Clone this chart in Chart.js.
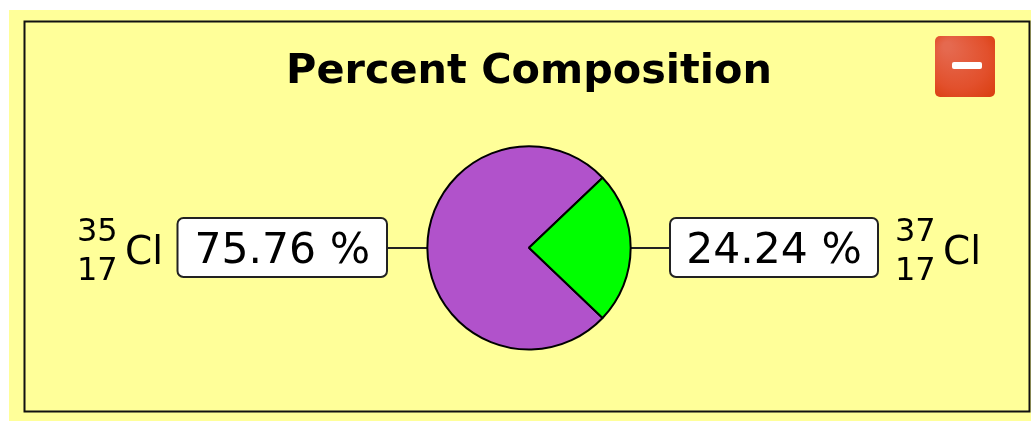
<!DOCTYPE html>
<html>
<head>
<meta charset="utf-8">
<title>Percent Composition</title>
<script src="https://cdn.jsdelivr.net/npm/chart.js@4/dist/chart.umd.min.js"></script>
<style>
  html, body { margin: 0; padding: 0; background: #fff; overflow: hidden; }
  canvas { display: block; }
</style>
</head>
<body>
<canvas id="chart" width="1031" height="421"></canvas>
<script>
const titleText = 'Percent Composition';
const elements = ['Cl', 'Cl'];
const massNumbers = ['35', '37'];
const atomicNumbers = ['17', '17'];
const percents = [75.76, 24.24];
const sliceColors = ['#b152cb', '#00ff00'];

const FONT = '"DejaVu Sans"';

// yellow panel, frame and the lines that join the boxes to the pie
const panelPlugin = {
  id: 'panel',
  beforeDraw(chart) {
    const c = chart.ctx;
    c.save();
    c.fillStyle = '#ffff99';
    c.fillRect(9, 10, 1022, 411);
    c.strokeStyle = '#111';
    c.lineWidth = 2;
    c.strokeRect(24.5, 21.5, 1005, 390);
    c.lineWidth = 2;
    c.strokeStyle = '#222';
    c.beginPath();
    c.moveTo(387, 248); c.lineTo(430, 248);
    c.moveTo(628, 248); c.lineTo(670, 248);
    c.stroke();
    c.restore();
  }
};

function drawBox(c, x, y, w, h, text) {
  c.beginPath();
  c.roundRect(x, y, w, h, 6);
  c.fillStyle = '#fff';
  c.fill();
  c.lineWidth = 2;
  c.strokeStyle = '#222';
  c.stroke();
  c.fillStyle = '#000';
  c.font = '42.5px ' + FONT;
  c.textAlign = 'center';
  c.textBaseline = 'alphabetic';
  c.fillText(text, x + w / 2, y + 45);
}

function drawIsotope(c, x, i) {
  c.fillStyle = '#000';
  c.font = '32px ' + FONT;
  c.textAlign = 'left';
  c.textBaseline = 'alphabetic';
  c.fillText(massNumbers[i], x, 241);
  c.fillText(atomicNumbers[i], x, 280);
  c.font = '39px ' + FONT;
  c.fillText(elements[i], x + 48, 264);
}

function drawMinusButton(c, x, y, s) {
  const g = c.createRadialGradient(x + 12, y + 10, 4, x + s / 2, y + s / 2, s * 0.8);
  g.addColorStop(0, '#e5694f');
  g.addColorStop(0.6, '#e2502c');
  g.addColorStop(1, '#d83a08');
  c.beginPath();
  c.roundRect(x, y, s, s + 1, 5);
  c.fillStyle = g;
  c.fill();
  c.fillStyle = '#fff';
  c.beginPath();
  c.roundRect(x + 17, y + 26, 30, 7, 2);
  c.fill();
}

const labelsPlugin = {
  id: 'isotopeLabels',
  afterDraw(chart) {
    const c = chart.ctx;
    c.save();
    drawBox(c, 177.5, 218, 209.5, 59, percents[0].toFixed(2) + ' %');
    drawBox(c, 670, 218, 208, 59, percents[1].toFixed(2) + ' %');
    drawIsotope(c, 77, 0);
    drawIsotope(c, 895, 1);
    drawMinusButton(c, 935, 36, 60);
    c.restore();
  }
};

new Chart(document.getElementById('chart'), {
  type: 'pie',
  data: {
    labels: massNumbers.map((m, i) => m + elements[i]),
    datasets: [{
      data: percents,
      backgroundColor: sliceColors,
      borderColor: '#000',
      borderWidth: 2,
      hoverOffset: 0
    }]
  },
  options: {
    responsive: false,
    animation: false,
    // start so the small slice ends up centred on the right hand side
    rotation: 90 + percents[1] * 1.8,
    layout: { padding: { left: 27, right: 0, top: 0, bottom: 70.5 } },
    plugins: {
      legend: { display: false },
      tooltip: { enabled: false },
      title: {
        display: true,
        text: titleText,
        color: '#000',
        font: { family: 'DejaVu Sans', size: 41.4, weight: 'bold' },
        padding: { top: 47.5, bottom: 48 }
      }
    }
  },
  plugins: [panelPlugin, labelsPlugin]
});
</script>
</body>
</html>
